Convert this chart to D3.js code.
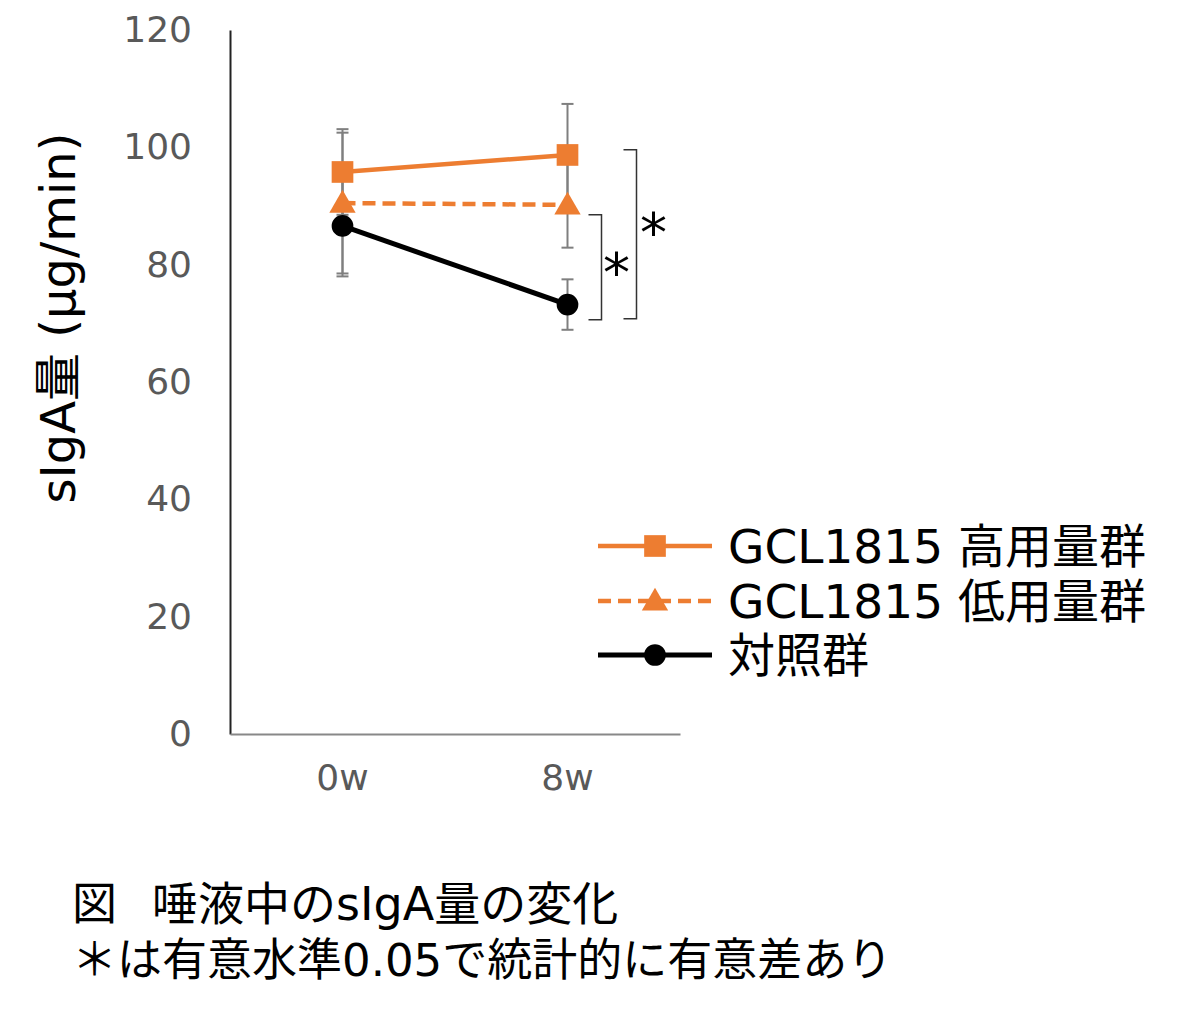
<!DOCTYPE html>
<html>
<head>
<meta charset="utf-8">
<script src="https://cdn.jsdelivr.net/npm/d3@7"></script>
<style>
  body { margin: 0; background: #fff; }
  text { font-family: "DejaVu Sans", "Noto Sans CJK JP", sans-serif; }
</style>
</head>
<body>
<div id="chart"></div>
<script>
// values
const weeks = ["0w", "8w"];
const seriesNames = ["GCL1815 高用量群", "GCL1815 低用量群", "対照群"];
const highMeans = [95.8, 98.7];
const highErrors = [7.3, 8.7];
const lowMeans = [90.5, 90.2];
const lowErrors = [12.0, 7.3];
const controlMeans = [86.6, 73.2];
const controlErrors = [8.6, 4.3];
const yTicks = [0, 20, 40, 60, 80, 100, 120];
// significance brackets at 8w (value range covered)
const bracketTops = [88.5, 99.6];
const bracketBottoms = [70.6, 70.8];

const orange = "#ed7d31";
const width = 1200, height = 1018;

const svg = d3.select("#chart").append("svg")
  .attr("width", width)
  .attr("height", height);

const x = d3.scaleBand().domain(weeks).range([230, 680]);
const y = d3.scaleLinear().domain([0, 120]).range([734, 30]);
const cx = d => x(d) + x.bandwidth() / 2;

// build series from the arrays
const series = [
  { name: seriesNames[0], means: highMeans, errs: highErrors, color: orange, dash: null, marker: "square" },
  { name: seriesNames[1], means: lowMeans, errs: lowErrors, color: orange, dash: "13,7", marker: "triangle" },
  { name: seriesNames[2], means: controlMeans, errs: controlErrors, color: "#000", dash: null, marker: "circle" }
];
series.forEach(s => s.points = weeks.map((w, i) => ({ w: w, v: s.means[i], e: s.errs[i] })));

// axes
const yAxis = svg.append("g")
  .attr("transform", "translate(230,0)")
  .call(d3.axisLeft(y).tickValues(yTicks).tickSize(0).tickPadding(38));
yAxis.select(".domain").attr("stroke", "#222").attr("stroke-width", 2);
yAxis.selectAll("text").attr("font-size", 36).attr("fill", "#595959")
  .attr("font-family", "'DejaVu Sans', sans-serif");

const xAxis = svg.append("g")
  .attr("transform", "translate(0,734)")
  .call(d3.axisBottom(x).tickSize(0).tickPadding(30));
xAxis.select(".domain").attr("stroke", "#888").attr("stroke-width", 2);
xAxis.selectAll("text").attr("font-size", 36).attr("fill", "#595959")
  .attr("font-family", "'Open Sans', 'Noto Sans', sans-serif");

// y axis title
svg.append("text")
  .attr("transform", "translate(75,318) rotate(-90)")
  .attr("text-anchor", "middle")
  .attr("font-size", 48)
  .attr("fill", "#000")
  .text("sIgA量 (μg/min)");

// error bars
const errG = svg.append("g").attr("stroke", "#7f7f7f").attr("stroke-width", 2);
series.forEach(s => {
  s.points.forEach(p => {
    const px = cx(p.w);
    errG.append("line").attr("x1", px).attr("x2", px).attr("y1", y(p.v + p.e)).attr("y2", y(p.v - p.e));
    [p.v + p.e, p.v - p.e].forEach(val => {
      errG.append("line").attr("x1", px - 6).attr("x2", px + 6).attr("y1", y(val)).attr("y2", y(val));
    });
  });
});

// lines
const line = d3.line().x(d => cx(d.w)).y(d => y(d.v));
series.forEach(s => {
  svg.append("path")
    .datum(s.points)
    .attr("d", line)
    .attr("fill", "none")
    .attr("stroke", s.color)
    .attr("stroke-width", s.marker === "circle" ? 5 : 4.5)
    .attr("stroke-dasharray", s.dash);
});

// markers
const symbolType = { square: d3.symbolSquare, triangle: d3.symbolTriangle, circle: d3.symbolCircle };
const symbolSize = { square: 470, triangle: 300, circle: 370 };
function drawMarker(g, s, px, py) {
  g.append("path")
    .attr("d", d3.symbol().type(symbolType[s.marker]).size(symbolSize[s.marker]))
    .attr("transform", `translate(${px},${py + (s.marker === "triangle" ? 2 : 0)})`)
    .attr("fill", s.color);
}
series.forEach(s => {
  s.points.forEach(p => drawMarker(svg, s, cx(p.w), y(p.v)));
});

// significance brackets
const bx8 = cx("8w");
const bracketOffsets = [34, 69];
const starShift = [[15, 0], [17, -7]];
bracketTops.forEach((top, i) => {
  const bx = bx8 + bracketOffsets[i];
  svg.append("path")
    .attr("d", `M${bx - 13},${y(top)}H${bx}V${y(bracketBottoms[i])}H${bx - 13}`)
    .attr("fill", "none")
    .attr("stroke", "#333")
    .attr("stroke-width", 1.5);
  svg.append("text")
    .attr("x", bx + starShift[i][0])
    .attr("y", (y(top) + y(bracketBottoms[i])) / 2 + starShift[i][1] + 24)
    .attr("text-anchor", "middle")
    .attr("font-size", 54)
    .attr("font-family", "'Liberation Serif', serif")
    .text("*");
});

// legend
const legend = svg.append("g");
const rowY = [546, 601, 655];
series.forEach((s, i) => {
  const g = legend.append("g");
  g.append("line")
    .attr("x1", 598).attr("x2", 712)
    .attr("y1", rowY[i]).attr("y2", rowY[i])
    .attr("stroke", s.color)
    .attr("stroke-width", s.marker === "circle" ? 5 : 4.5)
    .attr("stroke-dasharray", s.dash);
  drawMarker(g, s, 655, rowY[i]);
  g.append("text")
    .attr("x", 728)
    .attr("y", rowY[i] + 17)
    .attr("font-size", 47)
    .text(s.name);
});

// caption
const caption = svg.append("g").attr("font-size", 45);
const cap1 = caption.append("text").attr("x", 72).attr("y", 920);
cap1.append("tspan").text("図");
cap1.append("tspan").attr("x", 152).attr("font-size", 46).text("唾液中のsIgA量の変化");
caption.append("text").attr("x", 72).attr("y", 976).text("＊は有意水準0.05で統計的に有意差あり");
</script>
</body>
</html>
